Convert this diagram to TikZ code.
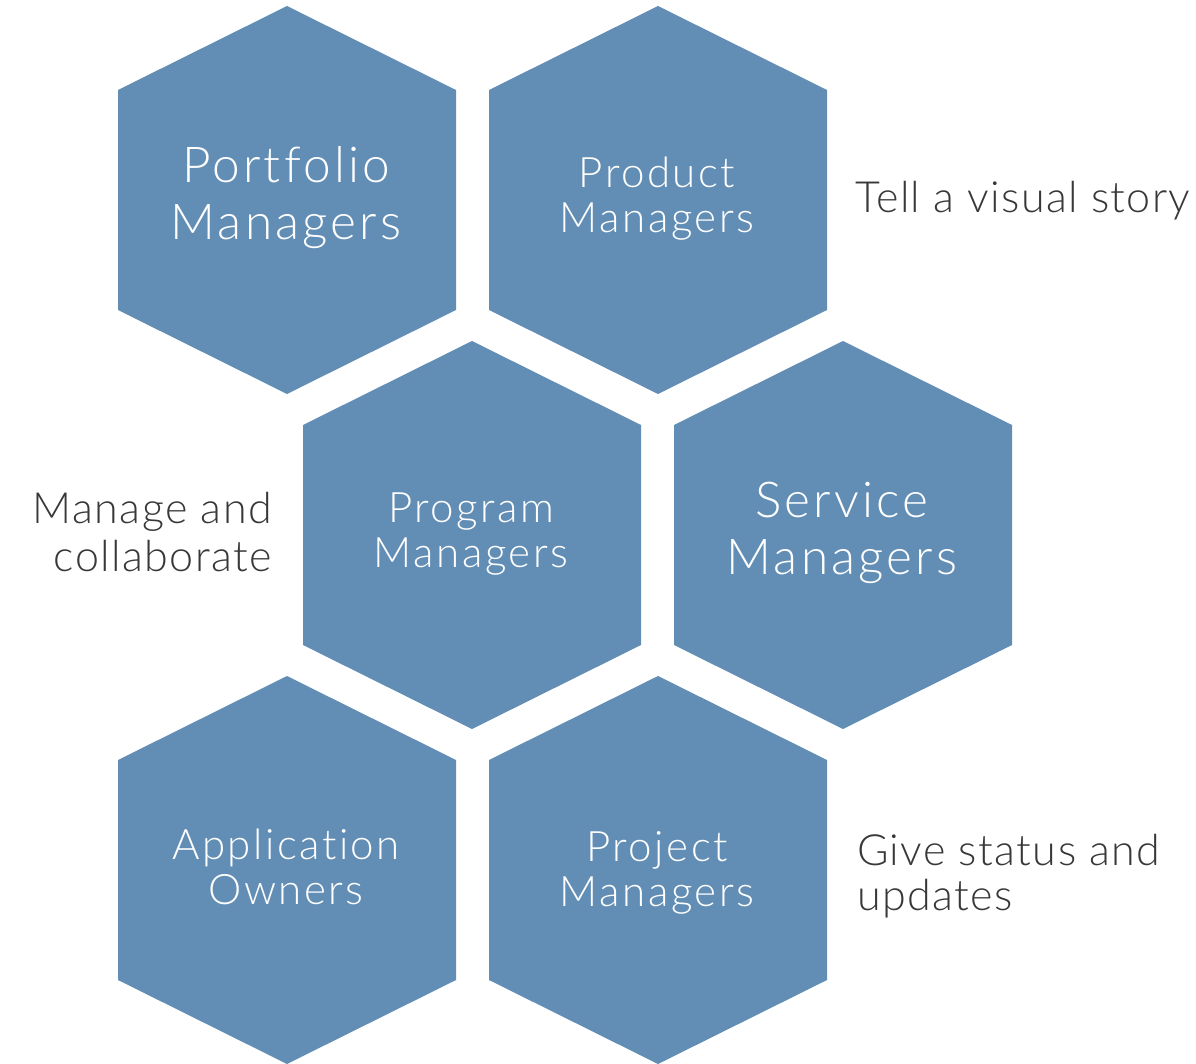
\documentclass[tikz,border=0pt]{standalone}
\usepackage{fontspec}
\setmainfont{Lato}[UprightFont=* Light, Ligatures=NoCommon]
\definecolor{hexblue}{HTML}{628EB5}
\definecolor{sidegray}{HTML}{383838}
\tikzset{
  hexfill/.style={fill=hexblue, draw=none},
  hexbig/.style={text=white, align=center, inner sep=0pt,
    font=\fontsize{49.5}{57}\selectfont\addfontfeatures{LetterSpace=6.5}},
  hexmid/.style={text=white, align=center, inner sep=0pt,
    font=\fontsize{42}{45}\selectfont\addfontfeatures{LetterSpace=6}},
  sidetext/.style={text=sidegray, inner sep=0pt,
    font=\fontsize{43}{47}\selectfont\addfontfeatures{LetterSpace=3.3}},
}
\newcommand{\hexat}[2]{%
  \fill[hexfill] (#1,#2-194) -- (#1+169,#2-110) -- (#1+169,#2+110) -- (#1,#2+194)
    -- (#1-169,#2+110) -- (#1-169,#2-110) -- cycle;}
\begin{document}
\begin{tikzpicture}[x=1pt,y=-1pt]
\useasboundingbox (0,0) rectangle (1196,1064);
\hexat{287}{200}
\hexat{658}{200}
\hexat{472}{535}
\hexat{843}{535}
\hexat{287}{870}
\hexat{658}{870}
\node[hexbig] (portfolio) at (286,197.5) {Portfolio\\Managers};
\node[hexmid] (product) at (657,198.5) {Product\\Managers};
\node[hexmid] (program) at (471,534.5) {Program\\Managers};
\node[hexbig] (service) at (842,532.5) {Service\\Managers};
\node[hexmid] (application) at (286,867) {Application\\Owners};
\node[hexmid] (project) at (657,872.5) {Project\\Managers};
\node[sidetext, anchor=base west] (tell) at (855,213) {Tell a visual story};
\node[sidetext, anchor=base east] (manage1) at (272,523) {Manage and};
\node[sidetext, anchor=base east] (manage2) at (272,571) {collaborate};
\node[sidetext, anchor=base west] (give1) at (857,865) {Give status and};
\node[sidetext, anchor=base west] (give2) at (857,910) {updates};
\end{tikzpicture}
\end{document}
